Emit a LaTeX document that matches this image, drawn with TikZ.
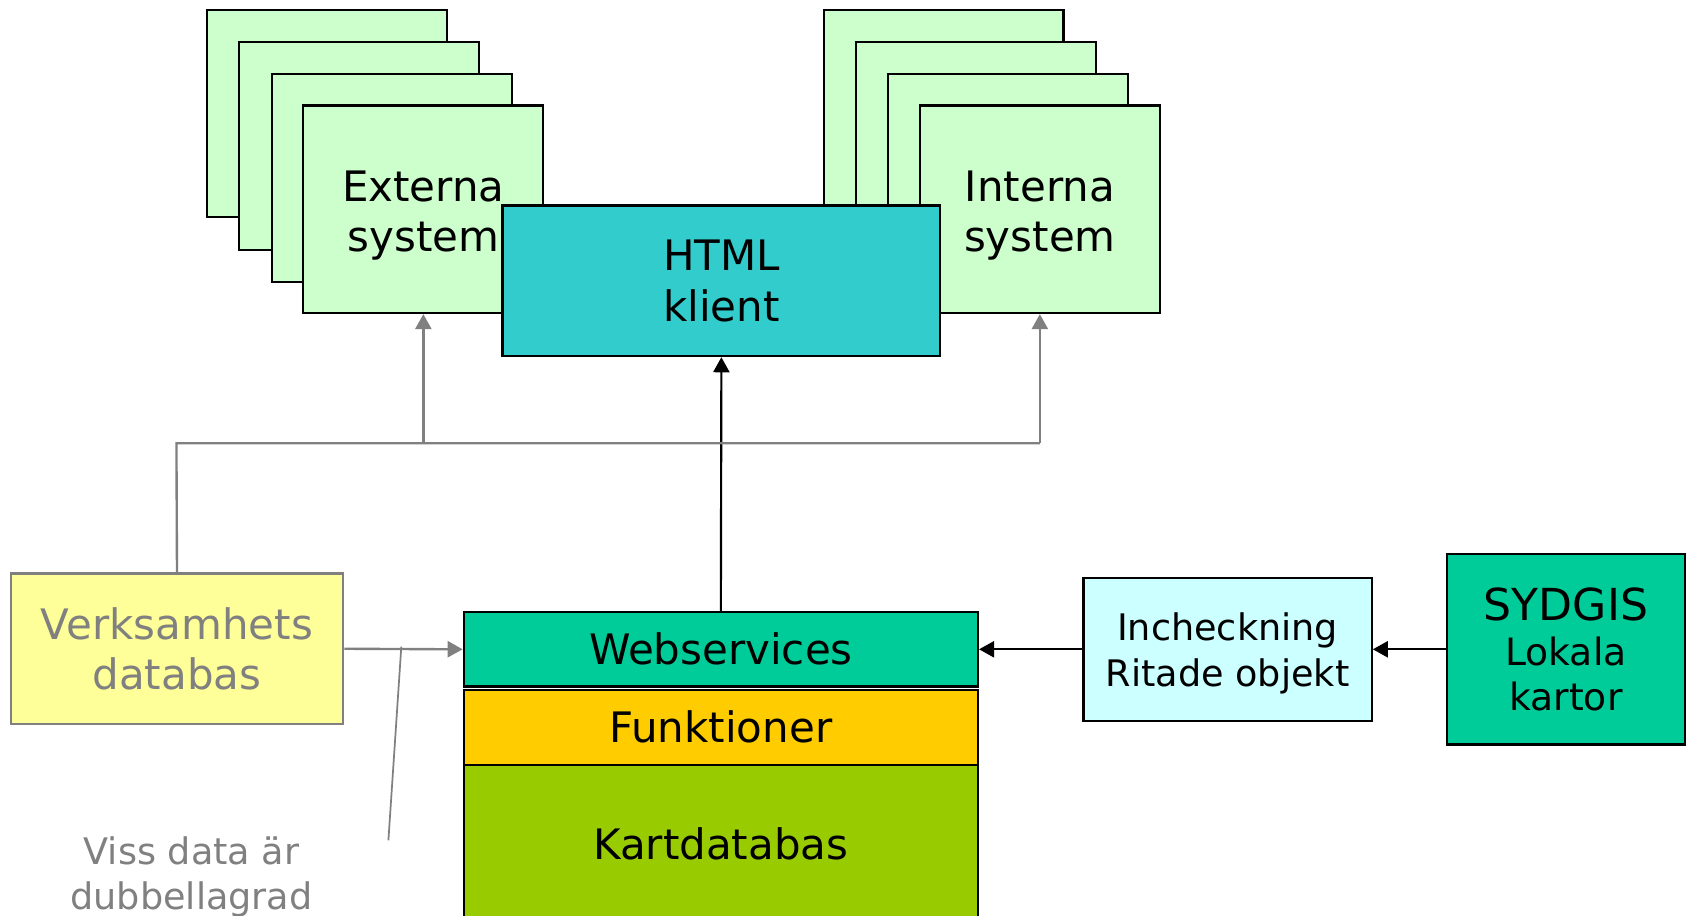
\documentclass[tikz,border=0pt]{standalone}
\usepackage{fontspec}
\setmainfont{DejaVu Sans}
\usetikzlibrary{arrows.meta}
\definecolor{lgreen}{HTML}{CCFFCC}
\definecolor{teal2}{HTML}{33CCCC}
\definecolor{lyellow}{HTML}{FFFF99}
\definecolor{sea}{HTML}{00CC99}
\definecolor{gold}{HTML}{FFCC00}
\definecolor{olive2}{HTML}{99CC00}
\definecolor{lcyan}{HTML}{CCFFFF}
\definecolor{grey2}{HTML}{808080}
\tikzset{
  box/.style={draw=black, line width=2pt, rectangle, inner sep=0pt, align=center,
    font=\fontsize{39}{47}\selectfont},
  stackbox/.style={box, fill=lgreen, minimum width=223pt, minimum height=193pt},
  stacktext/.style={align=center, font=\fontsize{39}{47}\selectfont, inner sep=0pt, yshift=-6pt},
  blk/.style={line width=2pt, -{Triangle[length=14pt,width=15pt]}},
  gry/.style={draw=grey2, line width=2.2pt, -{Triangle[length=14pt,width=15pt]}},
  gryline/.style={draw=grey2, line width=2.2pt},
}
\begin{document}
\begin{tikzpicture}[x=1pt,y=-1pt]
\useasboundingbox (0,0) rectangle (1568,851);
% Externa stack
\node[stackbox] (e1) at (304,105.5) {};
\node[stackbox] (e2) at (334,135.5) {};
\node[stackbox] (e3) at (364,165.5) {};
\node[stackbox, label={[stacktext]center:{Externa\\system}}] (ext) at (393.5,194.5) {};
% Interna stack
\node[stackbox] (i1) at (877,105.5) {};
\node[stackbox] (i2) at (907,135.5) {};
\node[stackbox] (i3) at (937,165.5) {};
\node[stackbox, label={[stacktext]center:{Interna\\system}}] (int) at (966.5,194.5) {};
% HTML klient
\node[box, fill=teal2, minimum width=407pt, minimum height=140pt] (html) at (670.5,261) {HTML\\klient};
% bottom stack
\node[box, fill=olive2, minimum width=478pt, minimum height=146pt] (kdb) at (670,784) {Kartdatabas};
\node[box, fill=gold, minimum width=478pt, minimum height=70pt] (fun) at (670,676) {Funktioner};
\node[box, fill=sea, minimum width=478pt, minimum height=69pt] (ws) at (670,603.5) {Webservices};
% Verksamhets databas
\node[box, draw=grey2, text=grey2, fill=lyellow, minimum width=309pt, minimum height=140pt] (vdb) at (164.5,603) {Verksamhets\\databas};
% Incheckning
\node[box, fill=lcyan, minimum width=268pt, minimum height=133pt,
  label={[align=center, inner sep=0pt, yshift=-4pt, font=\fontsize{34}{43}\selectfont]center:{Incheckning\\Ritade objekt}}] (inc) at (1141,603.5) {};
% SYDGIS
\node[box, fill=sea, minimum width=221pt, minimum height=177pt, font=\fontsize{35}{42}\selectfont] (syd) at (1455.5,603.5) {{\fontsize{41}{44}\selectfont SYDGIS}\\Lokala\\kartor};
% note
\node[text=grey2, align=center, font=\fontsize{34}{41}\selectfont, inner sep=0pt] (note) at (178,815) {Viss data är\\dubbellagrad};
% connectors
\draw[blk] (ws.north) -- (html.south);
\draw[blk] (syd.west) -- (inc.east);
\draw[blk] (inc.west) -- (ws.east);
\draw[gry] (vdb.east) -- (ws.west);
\coordinate (jl) at (164,412);
\coordinate (jr) at (966.5,412);
\draw[gryline] (vdb.north) -- (jl) -- (jr);
\draw[gry] (jr) -- (int.south);
\draw[gry] (ext.south |- jl) -- (ext.south);
\coordinate (c1) at (373,601);
\coordinate (c2) at (361,781);
\draw[draw=grey2, line width=1.6pt] (c1) -- (c2);
\end{tikzpicture}
\end{document}
